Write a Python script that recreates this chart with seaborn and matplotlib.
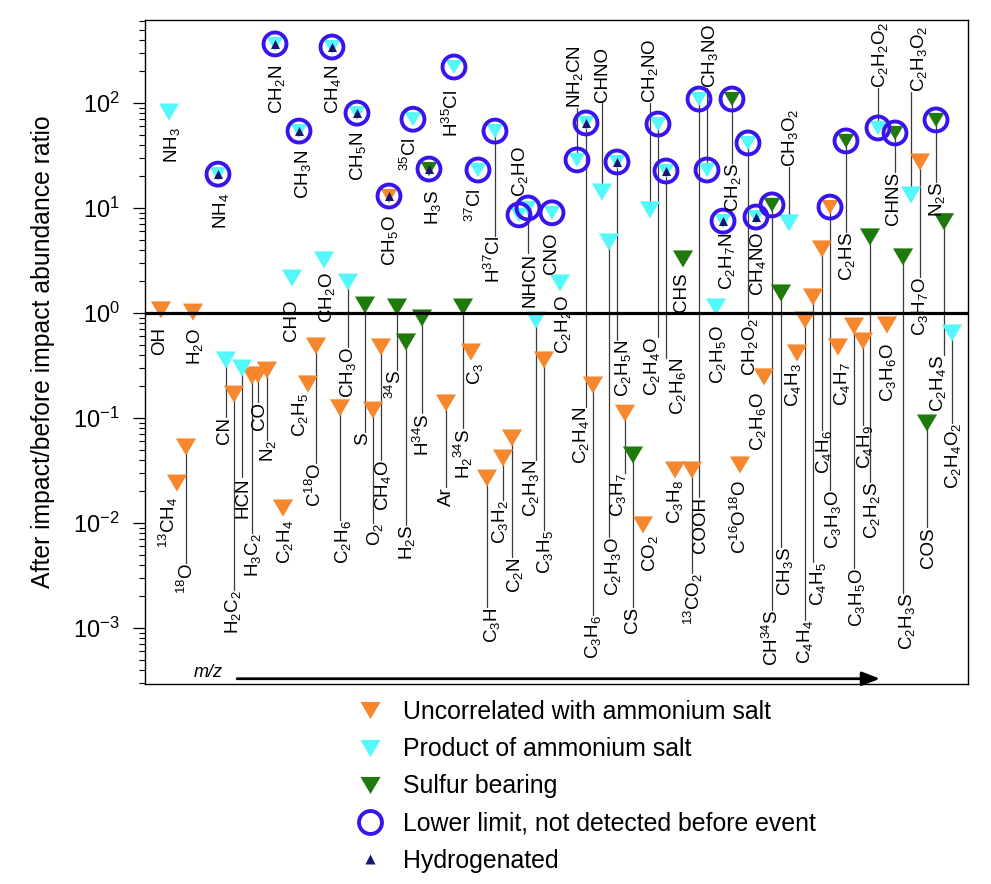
import re
import numpy as np
import pandas as pd
import matplotlib
matplotlib.use("Agg")
import matplotlib.pyplot as plt
import seaborn as sns
from matplotlib.lines import Line2D
from matplotlib.markers import MarkerStyle
from matplotlib.ticker import LogLocator, NullFormatter

# ---------------------------------------------------------
# Data (species ordered roughly by m/z)
# ---------------------------------------------------------
species = [
    'NH3', 'NH4', 'CH2N', 'CH3N', 'CH4N', 'CH5N', '35Cl', 'CH5O', 'H3S', 'H35Cl',
    '37Cl', 'H37Cl', 'C2HO', 'NHCN', 'CNO', 'NH2CN', 'C2H4N', 'CHNO', 'C2H5N', 'C2H3O',
    'CH2NO', 'C2H4O', 'C2H6N', 'CHS', 'COOH', 'CH3NO', 'CH2S', 'C2H7N', 'CH2O2', 'CH4NO',
    'CH34S', 'CH3O2', 'CH3S', 'C3H3O', 'C4H6', 'C2HS', 'C2H2S', 'C2H2O2', 'CHNS', 'C2H3O2',
    'C3H7O', 'N2S', 'C2H4S', 'C2H4O2', 'COS', 'C2H3S', 'C3H6O', 'C4H9', 'C3H5O', 'C4H7',
    'C4H5', 'C4H4', 'C4H3', 'C2H6O', 'C2H5O', 'C16O18O', '13CO2', 'C3H8', 'CO2', 'CS',
    'C3H7', 'C3H6', 'C2H2O', 'C3H5', 'C2H3N', 'C2N', 'C3H2', 'C3H', 'C3', 'H2-34S',
    'Ar', 'H34S', 'H2S', '34S', 'S', 'CH4O', 'O2', 'C2H6', 'CH3O', 'CH2O',
    'CHO', 'C18O', 'C2H5', 'C2H4', 'N2', 'CO', 'H3C2', 'HCN', 'H2C2', 'CN',
    '18O', '13CH4', 'OH', 'H2O',
]

# position along the m/z axis (arbitrary units, axis has no ticks)
mz_order = [
    24, 73, 130, 154, 187, 212, 268, 244, 284, 309,
    333, 350, 374, 383, 407, 432, 441, 457, 472, 464,
    505, 513, 521, 538, 554, 562, 587, 578, 603, 611,
    627, 644, 636, 685, 677, 701, 725, 733, 750, 766,
    775, 791, 799, 807, 782, 758, 742, 718, 709, 693,
    668, 660, 652, 619, 571, 595, 547, 530, 498, 488,
    480, 448, 415, 399, 391, 367, 358, 342, 326, 318,
    301, 277, 261, 252, 220, 236, 228, 195, 203, 179,
    147, 171, 163, 138, 122, 113, 107, 97, 89, 81,
    41, 32, 16, 48,
]

# after impact / before impact abundance ratio
ratio = [
    82, 21, 365, 54, 341, 80, 70, 13, 23.5, 220,
    23, 54, 8.6, 10, 9.0, 28.7, 64.5, 14.2, 27.4, 4.75,
    9.6, 63, 22.5, 3.27, 109, 23, 109, 7.5, 41.6, 8.2,
    10.7, 7.2, 1.55, 10.2, 4.07, 43.5, 5.3, 57.8, 51.8, 13.3,
    27.4, 68.9, 7.4, 0.645, 0.0896, 3.42, 0.769, 0.541, 0.752, 0.475,
    1.42, 0.858, 0.416, 0.246, 1.14, 0.0357, 0.032, 0.032, 0.0096, 0.0444,
    0.111, 0.206, 1.93, 0.357, 0.858, 0.0645, 0.0416, 0.0268, 0.425, 1.14,
    0.139, 0.896, 0.53, 1.14, 1.19, 0.475, 0.119, 0.125, 1.97, 3.2,
    2.15, 0.485, 0.211, 0.0139, 0.286, 0.257, 0.251, 0.299, 0.169, 0.357,
    0.053, 0.024, 1.07, 1.02,
]

# u = uncorrelated, p = product of ammonium salt, s = sulfur bearing
group = [
    'p', 'p', 'p', 'p', 'p', 'p', 'p', 'u', 's', 'p',
    'p', 'p', 'p', 'p', 'p', 'p', 'p', 'p', 'p', 'p',
    'p', 'p', 'p', 's', 'p', 'p', 's', 'p', 'p', 'p',
    's', 'p', 's', 'u', 'u', 's', 's', 'p', 's', 'p',
    'u', 's', 's', 'p', 's', 's', 'u', 'u', 'u', 'u',
    'u', 'u', 'u', 'u', 'p', 'u', 'u', 'u', 'u', 's',
    'u', 'u', 'p', 'u', 'p', 'u', 'u', 'u', 'u', 's',
    'u', 's', 's', 's', 's', 'u', 'u', 'u', 'p', 'p',
    'p', 'u', 'u', 'u', 'u', 'u', 'u', 'p', 'u', 'p',
    'u', 'u', 'u', 'u',
]

lower_limit = {
    'NH4', 'CH2N', 'CH3N', 'CH4N', 'CH5N', '35Cl', 'CH5O', 'H3S', 'H35Cl', '37Cl',
    'H37Cl', 'C2HO', 'NHCN', 'CNO', 'NH2CN', 'C2H4N', 'C2H5N', 'C2H4O', 'C2H6N',
    'COOH', 'CH3NO', 'CH2S', 'C2H7N', 'CH2O2', 'CH4NO', 'CH34S', 'C3H3O', 'C2HS',
    'C2H2O2', 'CHNS', 'N2S',
}
hydrogenated = {
    'NH4', 'CH2N', 'CH3N', 'CH4N', 'CH5N', 'CH5O', 'H3S', 'C2H4N', 'C2H5N',
    'C2H6N', 'C2H7N', 'CH4NO',
}

# label placement (x, and y of the label end nearest to its marker)
label_x = [
    27, 76, 132, 158, 188, 213, 265, 245, 288, 307,
    330, 349, 375, 385, 407, 430, 436, 458, 478, 468,
    505, 507, 533, 537, 555, 565, 588, 582, 605, 613,
    627, 645, 640, 688, 679, 702, 727, 735, 748, 774,
    775, 792, 793, 808, 783, 762, 743, 720, 712, 697,
    673, 660, 648, 613, 573, 595, 548, 530, 505, 488,
    473, 448, 418, 400, 386, 370, 355, 347, 330, 318,
    301, 278, 262, 250, 218, 238, 230, 198, 203, 182,
    147, 170, 155, 140, 123, 115, 108, 98, 88, 80,
    42, 23, 15, 50,
]
label_y = [
    59, 13.9, 230, 35.7, 230, 53, 47.5, 8.6, 14.8, 133,
    15.5, 5.4, 12.7, 3.73, 5.9, 89.6, 0.127, 102, 0.553, 0.00736,
    100, 0.591, 0.373, 2.46, 0.0177, 139, 26.8, 5.78, 0.896, 5.9,
    0.00148, 24.6, 0.0059, 0.0206, 0.0769, 5.9, 0.0246, 139, 22, 127,
    2.2, 17.7, 0.398, 0.0896, 0.00916, 0.00215, 0.518, 0.0858, 0.00373, 0.341,
    0.00425, 0.00119, 0.334, 0.177, 0.769, 0.0257, 0.00334, 0.0257, 0.00769, 0.00158,
    0.030, 0.00133, 1.48, 0.00858, 0.0398, 0.00474, 0.0166, 0.00158, 0.334, 0.0803,
    0.022, 0.111, 0.0096, 0.286, 0.0736, 0.0398, 0.01, 0.0107, 0.475, 2.46,
    1.33, 0.0373, 0.173, 0.0107, 0.0617, 0.142, 0.00803, 0.0274, 0.0023, 0.102,
    0.00416, 0.0177, 0.736, 0.72,
]
label_above = {'C2HO', 'NH2CN', 'CHNO', 'CH2NO', 'CH3NO', 'CH3O2', 'C2H2O2', 'C2H3O2'}

legend_labels = {
    'u': 'Uncorrelated with ammonium salt',
    'p': 'Product of ammonium salt',
    's': 'Sulfur bearing',
}
colors = {'u': '#F7872C', 'p': '#55F8FA', 's': '#1F7A0C'}
ring_color = '#3A14EC'
hydro_color = '#1B1470'


def chem(name):
    # two digits -> isotope superscript, one digit -> subscript
    out = ''
    for tok in re.findall(r'\d+|[A-Za-z]+', name):
        if tok.isdigit():
            out += f'$^{{{tok}}}$' if len(tok) == 2 else f'$_{{{tok}}}$'
        else:
            out += tok
    return out.replace('$$', '{}')


df = pd.DataFrame({
    'species': species, 'mz': mz_order, 'ratio': ratio, 'group': group,
    'label_x': label_x, 'label_y': label_y,
})
df['lower'] = df['species'].isin(lower_limit)
df['hydro'] = df['species'].isin(hydrogenated)

# ---------------------------------------------------------
# Style
# ---------------------------------------------------------
sns.set_theme(style="ticks")
plt.rcParams['font.family'] = ['Liberation Sans', 'DejaVu Sans']
plt.rcParams.update({
    'text.color': 'black',
    'axes.labelcolor': 'black',
    'ytick.color': 'black',
    'mathtext.fontset': 'custom',
    'mathtext.rm': 'Liberation Sans',
    'mathtext.it': 'Liberation Sans:italic',
    'mathtext.bf': 'Liberation Sans:bold',
    'mathtext.default': 'regular',
})

tri_down = MarkerStyle([(-1, 0.85), (1, 0.85), (0, -0.85)])

fig = plt.figure(figsize=(9.91, 8.84), dpi=100)
ax = fig.add_axes([0.1463, 0.2262, 0.8305, 0.7512])
ax.set_yscale('log')
ax.set_xlim(0, 823)
ax.set_ylim(2.93e-4, 617)

# leader lines from marker to label
for _, r in df.iterrows():
    gap_px = 105 * abs(np.log10(r['ratio']) - np.log10(r['label_y']))
    if gap_px > 26:
        ax.plot([r['mz'], r['mz']], [r['ratio'], r['label_y']],
                color='#3a3a3a', lw=0.9, zorder=1)

# triangles
sns.scatterplot(data=df[~df['lower']], x='mz', y='ratio', hue='group', palette=colors,
                marker=tri_down, s=14.5 ** 2, linewidth=0, legend=False, ax=ax, zorder=3)
sns.scatterplot(data=df[df['lower']], x='mz', y='ratio', hue='group', palette=colors,
                marker=tri_down, s=12 ** 2, linewidth=0, legend=False, ax=ax, zorder=3)

# lower-limit rings and hydrogenated markers
low = df[df['lower']]
ax.scatter(low['mz'], low['ratio'], s=16.5 ** 2, facecolors='none',
           edgecolors=ring_color, linewidths=2.8, zorder=4)
hyd = df[df['hydro']]
ax.scatter(hyd['mz'], hyd['ratio'], marker='^', s=6.5 ** 2, color=hydro_color,
           linewidths=0, zorder=5)

ax.axhline(1, color='black', lw=2.3, zorder=6)

for _, r in df.iterrows():
    above = r['species'] in label_above
    ax.text(r['label_x'], r['label_y'], chem(r['species']), rotation=90,
            ha='center', va='bottom' if above else 'top', fontsize=13.5,
            color='black', zorder=7)

# m/z arrow
ax.annotate('', xy=(0.893, 0.008), xytext=(0.112, 0.008), xycoords='axes fraction',
            arrowprops=dict(arrowstyle='-|>,head_length=0.9,head_width=0.35',
                            color='black', lw=2.0, shrinkA=0, shrinkB=0))
ax.text(0.077, 0.018, 'm/z', transform=ax.transAxes, fontsize=13, style='italic',
        ha='center', va='center')

# axes
ax.set_xlabel('')
ax.set_ylabel('After impact/before impact abundance ratio', fontsize=17.8)
ax.yaxis.set_label_coords(-0.109, 0.5)
ax.yaxis.set_major_locator(LogLocator(base=10, numticks=20))
ax.yaxis.set_minor_locator(LogLocator(base=10, subs=np.arange(2, 10), numticks=20))
ax.yaxis.set_minor_formatter(NullFormatter())
ax.tick_params(axis='y', which='major', direction='out', length=9, width=0.9,
               labelsize=17, pad=9, colors='black')
ax.tick_params(axis='y', which='minor', direction='out', length=4.5, width=0.8)
ax.tick_params(axis='x', bottom=False, labelbottom=False)
for sp in ax.spines.values():
    sp.set_visible(True)
    sp.set_color('black')
    sp.set_linewidth(1.0)

# legend
handles = [
    Line2D([], [], ls='', marker=tri_down, ms=14.5, mfc=colors[g], mec='none',
           label=legend_labels[g]) for g in ['u', 'p', 's']
]
handles.append(Line2D([], [], ls='', marker='o', ms=16.5, mfc='none', mec=ring_color,
                      mew=2.8, label='Lower limit, not detected before event'))
handles.append(Line2D([], [], ls='', marker='^', ms=6.5, mfc=hydro_color, mec='none',
                      label='Hydrogenated'))
leg = fig.legend(handles=handles, loc='upper left', bbox_to_anchor=(0.361, 0.208),
                 frameon=False, fontsize=17.9, handlelength=1.0, handletextpad=0.8,
                 labelspacing=0.53, borderaxespad=0, borderpad=0)
for t in leg.get_texts():
    t.set_color('black')

fig.savefig('out.png', dpi=100)
